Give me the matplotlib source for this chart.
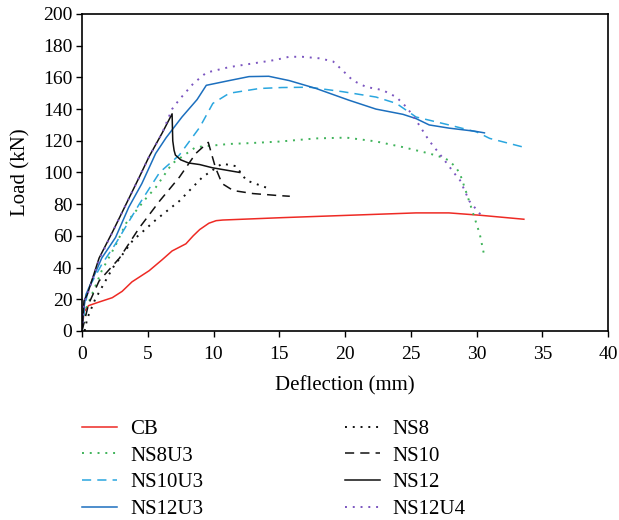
import matplotlib
matplotlib.use("Agg")
import matplotlib.pyplot as plt

plt.rcParams['font.family'] = ['Liberation Serif', 'DejaVu Serif']

# Data (deflection mm, load kN)
cb_x = [0, 0.15, 0.5, 1.2, 2.3, 3.05, 3.8, 5.1, 6.1, 6.85, 7.9, 8.45, 8.95, 9.65, 10.2, 10.7, 15.2, 20.3, 25.4, 27.9, 30.3, 33.6]
cb_y = [0, 12, 16, 18, 21, 25, 31, 38, 45, 50.5, 55, 60, 64, 68, 69.6, 70, 71.5, 73, 74.5, 74.5, 73, 70.5]

ns8u3_x = [0, 0.3, 0.8, 1.5, 2.55, 3.35, 4.9, 5.6, 6.85, 8.65, 11.2, 12.7, 15.0, 17.8, 20.1, 22.35, 24.4, 26.4, 27.4, 27.9, 28.45, 28.75, 29.25, 29.75, 30.25, 30.6]
ns8u3_y = [0, 14, 24, 38, 54, 68, 84, 90.5, 105.6, 116, 118, 118.5, 119.5, 121.5, 122, 119.6, 116, 112, 109.5, 107.6, 103, 99, 86.7, 74, 61, 47]

ns10u3_x = [0, 0.2, 0.5, 1.5, 2.55, 4.35, 5.9, 7.4, 8.95, 9.95, 11.2, 13.5, 15.2, 17.3, 19.8, 22.35, 23.9, 25.4, 27.9, 30.0, 31.0, 33.8]
ns10u3_y = [0, 15, 27, 42, 55, 80, 100, 111, 128.5, 143.6, 150, 153, 153.6, 153.8, 151, 147.6, 143.6, 135, 130, 125.6, 121.5, 115.5]

ns12u3_x = [0, 0.1, 0.3, 1.5, 2.55, 3.55, 4.55, 5.6, 6.4, 7.6, 8.75, 9.45, 11.2, 12.7, 14.2, 15.75, 17.8, 20.3, 22.35, 24.4, 25.4, 26.4, 27.9, 29.9, 30.6]
ns12u3_y = [0, 12, 23, 46, 59, 78, 93, 112, 122, 135, 146, 155, 158, 160.5, 160.7, 158, 153, 145.6, 140, 136.7, 134, 130, 128, 126, 125]

ns8_x = [0.2, 0.4, 1.0, 2.35, 3.85, 5.6, 7.4, 9.15, 10.65, 11.7, 12.5, 14.0, 14.4]
ns8_y = [0, 8, 20, 40, 57, 70, 82, 97, 105.6, 104, 95, 90.5, 90]

ns10_x = [0, 0.5, 1.3, 2.85, 4.35, 5.9, 7.4, 8.65, 9.45, 9.6, 10.15, 10.65, 11.5, 13.0, 15.0, 15.8]
ns10_y = [0, 17, 31.6, 46, 65, 82, 97, 112, 118, 119, 103, 93, 88.6, 86.7, 85.4, 85]

ns12_x = [0, 0.15, 0.4, 1.3, 2.35, 3.35, 4.35, 5.1, 6.1, 6.85, 6.9, 7.0, 7.1, 7.5, 8.1, 8.95, 9.9, 12.0]
ns12_y = [0, 19, 23, 46, 63, 80, 97, 110, 125, 137, 120, 114, 111, 108, 106, 105, 103, 100]

ns12u4_x = [0, 0.15, 0.5, 1.3, 2.35, 3.35, 4.35, 5.1, 6.1, 6.85, 7.4, 8.45, 9.45, 11.2, 14.7, 15.75, 16.75, 18.1, 19.1, 19.8, 20.6, 21.6, 22.85, 23.9, 24.7, 25.4, 26.4, 27.4, 28.45, 28.75, 29.45, 30.25, 30.4]
ns12u4_y = [0, 18, 25, 45, 63, 80, 97, 110, 125, 140, 146, 156, 163, 166.5, 171, 173, 173, 172, 170, 164.5, 158, 154, 152, 147.6, 141, 133, 120, 109.5, 98, 95, 82, 74, 73]

labels = ["CB", "NS8U3", "NS10U3", "NS12U3", "NS8", "NS10", "NS12", "NS12U4"]

fig = plt.figure(figsize=(6.19, 5.20), dpi=100)
ax = fig.add_axes([0.1325, 0.3635, 0.8498, 0.6096])

dot = (0, (1, 3))
lw = 1.1
h = []
h += ax.plot(cb_x, cb_y, color='#ee2a24', lw=lw, label=labels[0])
h += ax.plot(ns8u3_x, ns8u3_y, color='#3fb35a', lw=1.4, ls=dot, label=labels[1])
h += ax.plot(ns10u3_x, ns10u3_y, color='#2aa6df', lw=lw, ls=(0, (6, 4)), label=labels[2])
h += ax.plot(ns12u3_x, ns12u3_y, color='#1c6fbe', lw=lw, label=labels[3])
h += ax.plot(ns8_x, ns8_y, color='#111111', lw=1.4, ls=dot, label=labels[4])
h += ax.plot(ns10_x, ns10_y, color='#111111', lw=lw, ls=(0, (6, 4)), label=labels[5])
h += ax.plot(ns12_x, ns12_y, color='#111111', lw=lw, label=labels[6])
h += ax.plot(ns12u4_x, ns12u4_y, color='#7b55c0', lw=1.4, ls=dot, label=labels[7])

ax.set_xlim(0, 40)
ax.set_ylim(0, 200)
ax.set_xticks(range(0, 41, 5))
ax.set_yticks(range(0, 201, 20))
ax.tick_params(axis='both', labelsize=14, length=4, width=1, direction='out', pad=3)
ax.tick_params(axis='x', pad=7)
for s in ax.spines.values():
    s.set_linewidth(1.2)
ax.set_xlabel("Deflection (mm)", fontsize=15, labelpad=9)
ax.set_ylabel("Load (kN)", fontsize=15, labelpad=9)

fig.legend(handles=h, labels=labels, ncol=2, loc='upper left', bbox_to_anchor=(0.1325, 0.193),
           frameon=False, fontsize=15, handlelength=1.68, columnspacing=6.8,
           labelspacing=0.335, handletextpad=0.62, borderpad=0, borderaxespad=0,
           bbox_transform=fig.transFigure)

fig.savefig("out.png", dpi=100)
